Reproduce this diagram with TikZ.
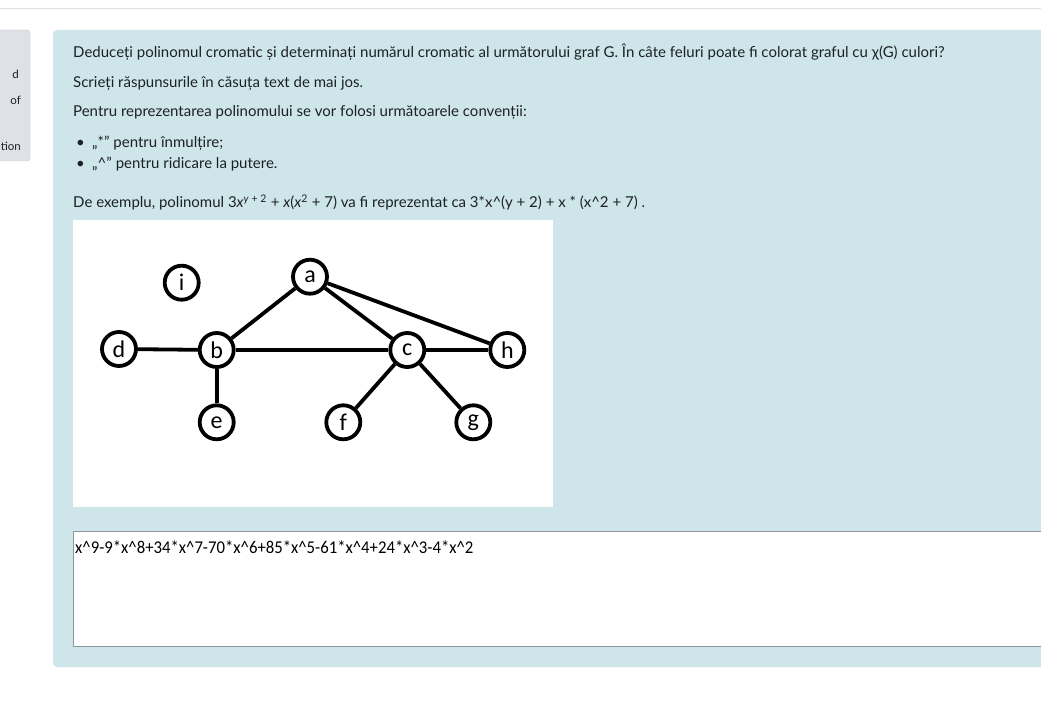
\documentclass[tikz,border=0pt]{standalone}
\usepackage{fontspec}
\setmainfont{Lato}
\newfontfamily\graphfont{Carlito}
\definecolor{pagetext}{HTML}{1D2125}
\definecolor{infobg}{HTML}{CEE6EA}
\definecolor{navbg}{HTML}{DEE2E6}
\definecolor{navline}{HTML}{C8CBCF}
\definecolor{boxline}{HTML}{8F959E}
\begin{document}
\begin{tikzpicture}[x=1pt, y=-1pt,
    line/.style={anchor=base west, inner sep=0pt, text=pagetext, font=\fontsize{15}{17}\selectfont},
    navtext/.style={anchor=base east, inner sep=0pt, text=pagetext, font=\fontsize{11.5}{13}\selectfont},
    vertex/.style={shape=circle, draw, line width=3.8pt, minimum size=34pt, inner sep=0pt,
                   fill=white, font=\graphfont\fontsize{24}{24}\selectfont},
    edge/.style={line width=3.8pt}]
  \useasboundingbox (0,0) rectangle (1041,711);
  \fill[white] (0,0) rectangle (1041,711);
  \draw[navbg, line width=1pt] (0,9) -- (1041,9);
  % side block
  \draw[navline, fill=navbg, rounded corners=3pt] (-10,30) rectangle (30,161);
  \node[navtext] (n1) at (19,79) {d};
  \node[navtext] (n2) at (21,105) {of};
  \node[navtext] (n3) at (21,151) {tion};
  % question block
  \fill[infobg, rounded corners=4pt] (53,30) rectangle (1060,667);
  \node[line] (t1) at (73,58) {Deduceți polinomul cromatic și determinați numărul cromatic al următorului graf G. În câte feluri poate fi colorat graful cu χ(G) culori?};
  \node[line] (t2) at (73,88) {Scrieți răspunsurile în căsuța text de mai jos.};
  \node[line] (t3) at (73,117) {Pentru reprezentarea polinomului se vor folosi următoarele convenții:};
  \node[line] (b1) at (76,148) {•};
  \node[line] (t4) at (92,148) {„*” pentru înmulțire;};
  \node[line] (b2) at (76,169) {•};
  \node[line] (t5) at (92,169) {„\^{}” pentru ridicare la putere.};
  \node[line] (t6) at (73,208) {De exemplu, polinomul 3\textit{x}\textsuperscript{\textit{y} + 2} + \textit{x}(\textit{x}\textsuperscript{2} + 7) va fi reprezentat ca 3*x\^{}(y + 2) + x * (x\^{}2 + 7) .};
  % graph picture
  \fill[white] (73,220) rectangle (553,507);
  \node[vertex] (i) at (181.7,282.7) {i};
  \node[vertex] (a) at (310,276.7) {a};
  \node[vertex] (d) at (119,349) {d};
  \node[vertex] (b) at (216.7,350) {b};
  \node[vertex] (c) at (407.3,350) {c};
  \node[vertex] (h) at (507.3,350) {h};
  \node[vertex] (e) at (216.7,422.3) {e};
  \node[vertex] (f) at (343.3,422.3) {f};
  \node[vertex] (g) at (473.3,422.3) {g};
  \draw[edge] (a) -- (b);
  \draw[edge] (a) -- (c);
  \draw[edge] (a) -- (h);
  \draw[edge] (d) -- (b);
  \draw[edge] (b) -- (c);
  \draw[edge] (c) -- (h);
  \draw[edge] (b) -- (e);
  \draw[edge] (c) -- (f);
  \draw[edge] (c) -- (g);
  % answer box
  \draw[boxline, fill=white, line width=1pt] (73,531) rectangle (1060,646);
  \node[anchor=base west, inner sep=0pt, xscale=0.93, font=\graphfont\fontsize{18}{20}\selectfont] (ans) at (75,553) {x\^{}9-9*x\^{}8+34*x\^{}7-70*x\^{}6+85*x\^{}5-61*x\^{}4+24*x\^{}3-4*x\^{}2};
\end{tikzpicture}
\end{document}
